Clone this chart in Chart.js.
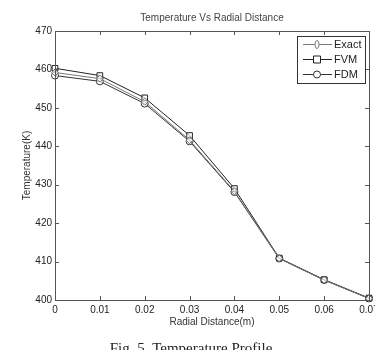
<!DOCTYPE html>
<html><head><meta charset="utf-8">
<script src="https://cdn.jsdelivr.net/npm/chart.js@4/dist/chart.umd.min.js"></script>
<style>html,body{margin:0;padding:0;background:#fff}#wrap{width:375px;height:350px;position:relative}</style>
</head><body><div id="wrap"><canvas id="c" width="375" height="350"></canvas></div>
<script>
const radialDistance = [0, 0.01, 0.02, 0.03, 0.04, 0.05, 0.06, 0.07];
const exactT = [459.2, 457.6, 451.6, 441.6, 428.3, 410.8, 405.2, 400.4];
const fvmT   = [460.3, 458.4, 452.6, 442.8, 429.0, 410.9, 405.3, 400.5];
const fdmT   = [458.4, 456.9, 451.1, 441.3, 428.1, 410.8, 405.2, 400.4];
const xTickLabels = ['0', '0.01', '0.02', '0.03', '0.04', '0.05', '0.06', '0.07'];
const yTickLabels = ['400', '410', '420', '430', '440', '450', '460', '470'];
const seriesNames = ['Exact', 'FVM', 'FDM'];

const pts = arr => radialDistance.map((x, i) => ({x: x, y: arr[i]}));
const FONT = '"Liberation Sans", Arial, sans-serif';

const framePlugin = {
  id: 'frame',
  afterDraw(chart) {
    const {ctx, chartArea: a, scales} = chart;
    ctx.save();
    ctx.strokeStyle = '#555';
    ctx.lineWidth = 1;
    ctx.strokeRect(a.left + 0.5, a.top + 0.5, a.right - a.left, a.bottom - a.top);
    const tl = 4;
    ctx.beginPath();
    scales.x.ticks.forEach((t, i) => {
      const px = Math.round(scales.x.getPixelForTick(i)) + 0.5;
      ctx.moveTo(px, a.bottom); ctx.lineTo(px, a.bottom - tl);
      ctx.moveTo(px, a.top); ctx.lineTo(px, a.top + tl);
    });
    scales.y.ticks.forEach((t, i) => {
      const py = Math.round(scales.y.getPixelForTick(i)) + 0.5;
      ctx.moveTo(a.left, py); ctx.lineTo(a.left + tl, py);
      ctx.moveTo(a.right, py); ctx.lineTo(a.right - tl, py);
    });
    ctx.stroke();
    // title
    ctx.fillStyle = '#444';
    ctx.font = '10px ' + FONT;
    ctx.textAlign = 'center';
    ctx.textBaseline = 'middle';
    ctx.fillText('Temperature Vs Radial Distance', (a.left + a.right) / 2, 18.5);
    // legend
    const lx = 297.5, ly = 36.5, lw = 68, lh = 47;
    ctx.fillStyle = '#fff';
    ctx.fillRect(lx, ly, lw, lh);
    ctx.strokeStyle = '#333';
    ctx.strokeRect(lx, ly, lw, lh);
    chart.data.datasets.forEach((ds, i) => {
      const y = 44.5 + i * 15;
      ctx.strokeStyle = ds.borderColor;
      ctx.lineWidth = 1;
      ctx.beginPath(); ctx.moveTo(303, y); ctx.lineTo(332, y); ctx.stroke();
      const style = ds.pointStyle;
      ctx.fillStyle = '#fff';
      ctx.beginPath();
      if (style === 'rect') { ctx.rect(313.5, y - 3.5, 7, 7); }
      else if (style === 'circle') { ctx.arc(317, y, 3.5, 0, Math.PI * 2); }
      else { ctx.ellipse(317, y, 2, 4, 0, 0, Math.PI * 2); }
      ctx.fill(); ctx.stroke();
      ctx.fillStyle = '#222';
      ctx.font = '11px ' + FONT;
      ctx.textAlign = 'left';
      ctx.fillText(ds.label, 334, y + 0.5);
    });
    // caption
    ctx.fillStyle = '#222';
    ctx.font = '15px "Liberation Serif", "Times New Roman", serif';
    ctx.textAlign = 'center';
    ctx.textBaseline = 'alphabetic';
    ctx.fillText('Fig. 5. Temperature Profile', 191, 353);
    ctx.restore();
  }
};

new Chart(document.getElementById('c'), {
  type: 'line',
  data: {
    datasets: [
      {label: seriesNames[0], data: pts(exactT), borderColor: '#777', pointStyle: 'rectRot', pointRadius: 3.5},
      {label: seriesNames[1], data: pts(fvmT), borderColor: '#222', pointStyle: 'rect', pointRadius: 4},
      {label: seriesNames[2], data: pts(fdmT), borderColor: '#333', pointStyle: 'circle', pointRadius: 3.5}
    ].map(d => Object.assign(d, {borderWidth: 1, pointBackgroundColor: 'rgba(255,255,255,0.6)', pointBorderColor: d.borderColor, pointBorderWidth: 1, tension: 0, clip: 8, fill: false}))
  },
  options: {
    responsive: false,
    animation: false,
    devicePixelRatio: 1,
    layout: {padding: {top: 31, right: 6, left: 0, bottom: 0}},
    plugins: {legend: {display: false}, tooltip: {enabled: false}, title: {display: false}},
    scales: {
      x: {
        type: 'linear', min: 0, max: 0.07,
        afterBuildTicks: s => { s.ticks = radialDistance.map(v => ({value: v})); },
        ticks: {callback: (v, i) => xTickLabels[i], color: '#222', font: {family: FONT, size: 10}, padding: 4, maxRotation: 0, autoSkip: false},
        grid: {display: false, drawTicks: false},
        border: {display: false},
        title: {display: true, text: 'Radial Distance(m)', color: '#333', font: {family: FONT, size: 10}, padding: {top: 0, bottom: 22}},
        afterFit: s => { s.height = 50; s.paddingLeft = 0; s.paddingRight = 0; }
      },
      y: {
        type: 'linear', min: 400, max: 470,
        afterBuildTicks: s => { s.ticks = yTickLabels.map(v => ({value: +v})); },
        ticks: {callback: (v, i) => yTickLabels[i], color: '#222', font: {family: FONT, size: 10}, padding: 3},
        grid: {display: false, drawTicks: false},
        border: {display: false},
        title: {display: true, text: 'Temperature(K)', color: '#333', font: {family: FONT, size: 10}, padding: {top: 21, bottom: 0}},
        afterFit: s => { s.width = 55; s.paddingTop = 0; s.paddingBottom = 0; }
      }
    }
  },
  plugins: [framePlugin]
});
</script>
</body></html>
